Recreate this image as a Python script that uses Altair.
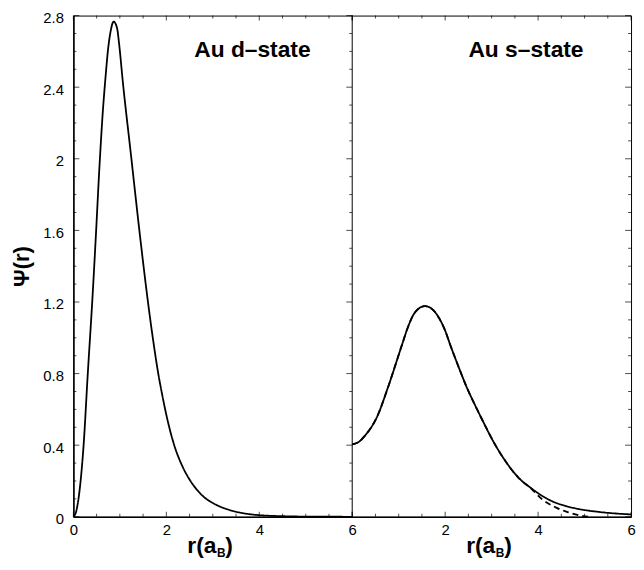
import altair as alt
import pandas as pd

# ---------------- data ----------------
d_r = [0, 0.06, 0.13, 0.22, 0.31, 0.41, 0.48, 0.56, 0.63, 0.69, 0.75, 0.80, 0.866, 0.94,
       0.985, 1.06, 1.24, 1.42, 1.61, 1.72, 1.82, 1.92, 2.0, 2.17, 2.35, 2.52, 2.77, 3.08,
       3.36, 3.7, 4.0, 4.55, 5.0, 6.0]
d_psi = [0, 0.03, 0.14, 0.40, 0.80, 1.22, 1.55, 1.95, 2.25, 2.45, 2.62, 2.71, 2.766, 2.73,
         2.64, 2.44, 2.02, 1.60, 1.19, 0.98, 0.81, 0.67, 0.57, 0.40, 0.28, 0.20, 0.12, 0.066,
         0.038, 0.018, 0.009, 0.003, 0.001, 0]

s_r = [0, 0.15, 0.28, 0.53, 0.78, 1.06, 1.2, 1.32, 1.44, 1.565, 1.72, 1.87, 2.0, 2.11, 2.3, 2.47,
       2.65, 2.82, 3.06, 3.3, 3.59, 3.84, 4.1, 4.3, 4.6, 4.86, 5.35, 6.0]
s_psi = [0.405, 0.42, 0.455, 0.556, 0.731, 0.952, 1.06, 1.13, 1.165, 1.177, 1.16, 1.11, 1.04, 0.96,
         0.83, 0.72, 0.62, 0.53, 0.41, 0.31, 0.215, 0.162, 0.115, 0.087, 0.060, 0.044, 0.026, 0.013]

s_dash_r = [0, 0.15, 0.28, 0.53, 0.78, 1.06, 1.2, 1.32, 1.44, 1.565, 1.72, 1.87, 2.0, 2.11, 2.3, 2.47,
            2.65, 2.82, 3.06, 3.3, 3.59, 3.84, 4.1, 4.4, 4.65, 4.9, 5.1]
s_dash_psi = [0.405, 0.42, 0.455, 0.556, 0.731, 0.952, 1.06, 1.13, 1.165, 1.177, 1.16, 1.11, 1.04, 0.96,
              0.83, 0.72, 0.62, 0.53, 0.41, 0.31, 0.215, 0.160, 0.095, 0.050, 0.025, 0.008, 0.0]

x_major = [0, 2, 4, 6]
x_minor = [0.5, 1, 1.5, 2.5, 3, 3.5, 4.5, 5, 5.5]
y_major = [0, 0.4, 0.8, 1.2, 1.6, 2.0, 2.4, 2.8]
y_minor = [0.1, 0.2, 0.3, 0.5, 0.6, 0.7, 0.9, 1.0, 1.1, 1.3, 1.4, 1.5, 1.7, 1.8, 1.9,
           2.1, 2.2, 2.3, 2.5, 2.6, 2.7]

panel_labels = ["Au d\u2013state", "Au s\u2013state"]
panel_offset = [0, 6]          # the s-state panel sits right of the d-state panel
label_r = [2.6, 2.5]           # left edge of the panel labels, in r(a_B)
title_r = [2.95, 2.95]         # centre of the x titles, in r(a_B)

FONT = "Liberation Sans"
XMAX = 12

xscale = alt.Scale(domain=[0, XMAX], nice=False, zero=False)
yscale = alt.Scale(domain=[0, 2.8], nice=False, zero=False)

xaxis = alt.Axis(values=[v + o for o in panel_offset for v in x_major if not (o == 6 and v == 0)],
                 labelExpr="datum.value > 6 ? format(datum.value - 6, '~g') : format(datum.value, '~g')",
                 title=None, ticks=False, labelPadding=6, labelOverlap=False, labelFlush=False,
                 domainWidth=1.5, domainColor="black")
yaxis = alt.Axis(values=y_major, format="~g", title="\u03a8(r)", ticks=False, labelPadding=10,
                 domainWidth=1.5, domainColor="black", titleFont=FONT, titleFontSize=22,
                 titleFontWeight="bold", titleX=-40, titleColor="black", labelOffset=2)

X = alt.X("x:Q", scale=xscale, axis=xaxis)
Y = alt.Y("psi:Q", scale=yscale, axis=yaxis)

# ---------------- curves ----------------
d_df = pd.DataFrame({"r": d_r, "psi": d_psi, "kind": "solid", "panel": 0})
s_df = pd.concat([
    pd.DataFrame({"r": s_dash_r, "psi": s_dash_psi, "kind": "dashed", "panel": 1}),
    pd.DataFrame({"r": s_r, "psi": s_psi, "kind": "solid", "panel": 1}),
])
curves_df = pd.concat([d_df, s_df])
curves = alt.Chart(curves_df).transform_calculate(
    x="datum.r + 6 * datum.panel", key="datum.kind + datum.panel"
).mark_line(color="black", strokeWidth=1.8, interpolate="monotone").encode(
    x=X, y=Y,
    strokeDash=alt.StrokeDash("kind:N", scale=alt.Scale(domain=["dashed", "solid"], range=[[6, 4], [1, 0]]),
                              legend=None),
    detail="key:N",
)

# ---------------- inward ticks ----------------
tick_layers = []
for vals, ln in ((x_major, 5), (x_minor, 3)):
    df = pd.DataFrame({"r": [v for o in panel_offset for v in vals], "o": [o for o in panel_offset for v in vals]})
    base = alt.Chart(df).transform_calculate(x="datum.r + datum.o")
    tick_layers.append(base.mark_tick(orient="vertical", size=ln, thickness=1, color="black",
                                      yOffset=-ln / 2).encode(x=X, y=alt.datum(0, scale=yscale)))
    tick_layers.append(base.mark_tick(orient="vertical", size=ln, thickness=1, color="black",
                                      yOffset=ln / 2).encode(x=X, y=alt.datum(2.8, scale=yscale)))
for vals, ln in ((y_major, 6), (y_minor, 3)):
    df = pd.DataFrame({"psi": vals})
    base = alt.Chart(df)
    tick_layers.append(base.mark_tick(orient="horizontal", size=ln, thickness=1, color="black",
                                      xOffset=ln / 2).encode(y=Y, x=alt.datum(0, scale=xscale)))
    tick_layers.append(base.mark_tick(orient="horizontal", size=ln, thickness=1, color="black",
                                      xOffset=-ln / 2).encode(y=Y, x=alt.datum(6, scale=xscale)))
    tick_layers.append(base.mark_tick(orient="horizontal", size=ln, thickness=1, color="black",
                                      xOffset=-ln / 2).encode(y=Y, x=alt.datum(XMAX, scale=xscale)))

divider = alt.Chart(pd.DataFrame({"x": [6]})).mark_rule(color="black", strokeWidth=1).encode(x=X)

# ---------------- texts ----------------
lab_df = pd.DataFrame({"t": panel_labels, "r": label_r, "o": panel_offset, "psi": [2.57, 2.57]})
labels = alt.Chart(lab_df).transform_calculate(x="datum.r + datum.o").mark_text(
    font=FONT, fontSize=23, fontWeight="bold", align="left", baseline="alphabetic", color="black"
).encode(x=X, y=Y, text="t:N")

tt_df = pd.DataFrame({"r": title_r, "o": panel_offset, "psi": [0, 0]})
tbase = alt.Chart(tt_df).transform_calculate(x="datum.r + datum.o")
title_parts = [
    tbase.mark_text(text="r(a", font=FONT, fontSize=23, fontWeight="bold", align="right",
                    baseline="alphabetic", color="black", dx=6, dy=37).encode(x=X, y=Y),
    tbase.mark_text(text="B", font=FONT, fontSize=12, fontWeight="bold", align="left",
                    baseline="alphabetic", color="black", dx=6.5, dy=41).encode(x=X, y=Y),
    tbase.mark_text(text=")", font=FONT, fontSize=23, fontWeight="bold", align="left",
                    baseline="alphabetic", color="black", dx=15, dy=37).encode(x=X, y=Y),
]

chart = alt.layer(*tick_layers, divider, curves, labels, *title_parts).properties(
    width=634, height=554,
    autosize=alt.AutoSizeParams(type="fit", contains="padding"),
    padding={"left": 3, "top": 0, "right": 0, "bottom": 0},
).configure_view(stroke="black", strokeWidth=1).configure_axis(
    labelFont=FONT, labelFontSize=15, labelColor="black", grid=False
)

chart.save("out.html", embed_options={"renderer": "svg", "actions": False})
